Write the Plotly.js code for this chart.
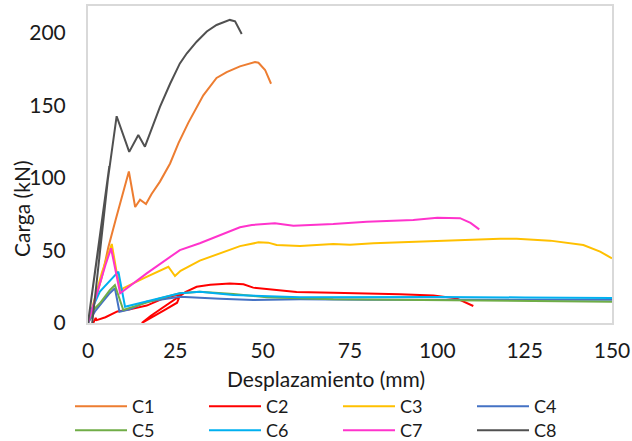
<!DOCTYPE html>
<html><head><meta charset="utf-8">
<script src="https://cdn.plot.ly/plotly-3.0.1.min.js"></script>
<style>html,body{margin:0;padding:0;background:#fff}</style>
</head><body><div id="chart" style="width:632px;height:441px"></div>
<script>
// Serie names
const seriesNames = ["C1","C2","C3","C4","C5","C6","C7","C8"];
const seriesColors = ["#ED7D31","#FF0000","#FFC000","#4472C4","#70AD47","#00B0F0","#FF33CC","#505050"];

// Desplazamiento (mm) / Carga (kN)
const c1x = [0,2,4,5.8,7.9,8.9,10.5,11.7,13.5,14.9,16.6,18.2,20.6,23.5,25.9,28.7,33,36.8,39.7,43.5,47.8,48.8,50.7,52.4];
const c1y = [0,15,32,52,71,80,95,104.5,80,85,82,89,97.5,110,124,138,157,169,173,177,180,179.5,174.5,165];

const c2x = [1.5,2.2,2.5,5,8.4,12,16.8,21.6,26.5,25.5,22,18,15.4,18,22,26.3,28,31.1,35,40.6,44.5,47.3,53,59.7,70.2,79.8,89.3,98.9,105.5,110.3];
const c2y = [0,3.5,2,4,8,9.4,12,17,20,14,9,3.5,0,5,11.5,18.5,21.5,25,26.3,27.2,26.7,24.4,22.8,21.4,20.9,20.5,19.8,18.9,17,11.7];

const c3x = [0,2,4,6.8,8.2,9.5,10.1,16,23,24.9,26.5,32,37.8,43.5,48.8,51.6,54,60.7,70.2,75,81.7,89.3,98.9,108.4,118,122.7,132.3,141.8,146.6,150];
const c3y = [0,18,35,54.5,35,22,24,31,38.8,32.4,36,43,48,53,55.6,55.4,53.8,53.1,54.5,54,55,55.6,56.8,57.2,58.1,58.1,56.8,53.8,49.2,44.6];

const c4x = [0,2,4,6,7.7,9,12,16.8,26.3,32,37.8,47.3,60.7,80,100,125,150];
const c4y = [0,8,14,20,24,7.8,9.5,14.7,18.1,17.7,16.8,15.9,16.3,16,16,16,16];

const c5x = [0,1.5,3.4,6.3,7.7,10.1,14,20,26.3,32,41.6,51.2,70.2,108.4,150];
const c5y = [0,9,13.6,22.8,26.2,9,12,16.5,20.5,21.6,20,17.7,16.3,15.4,14.7];

const c6x = [0,1,3.4,7.2,8.7,10.6,16.8,26.3,32,41.6,60.7,80,100,125,150];
const c6y = [0,9,21.6,32,35.4,11.2,15,20.5,21.6,19.3,17.7,17.8,18,17.6,17.2];

const c7x = [0,1.5,3,5,6.6,9.2,16.8,26.3,32,37.8,43.5,46.9,52.1,53.5,58.8,70.2,79.8,93.1,100,106.5,109.5,112];
const c7y = [0,12,25,40,51.5,20.5,34.2,50.3,55,60.7,66,67.6,68.3,68.8,67.1,68.3,69.9,71,72.5,72.3,69,64.6];

const c8x = [1.2,6.1,0,4,8.2,11.8,14.4,16.3,18.2,20.6,23.5,26.3,28.3,31.1,34,36.8,40.6,42.1,44];
const c8y = [0,108,0,70,142.6,118,129.7,121.6,134,149,165,179,186,194,201,205.5,209,208,199.3];

const xs = [c1x,c2x,c3x,c4x,c5x,c6x,c7x,c8x];
const ys = [c1y,c2y,c3y,c4y,c5y,c6y,c7y,c8y];

const xTickVals = [0,25,50,75,100,125,150];
const yTickVals = [0,50,100,150,200];

const font = "Lato, 'Open Sans', sans-serif";
const FS = 21;
const LFS = 18;
const traces = seriesNames.map((n,i)=>({
  type:"scatter", mode:"lines", name:n, x:xs[i], y:ys[i],
  legend: i < 4 ? "legend" : "legend2",
  line:{color:seriesColors[i], width:2}
}));

const legendBase = {orientation:"h", xanchor:"left", yanchor:"top",
  entrywidth:67, entrywidthmode:"pixels", itemwidth:52, font:{size:LFS},
  bgcolor:"rgba(0,0,0,0)", borderwidth:0};

const layout = {
  width:632, height:441,
  margin:{l:88, r:20, t:6, b:118, autoexpand:false},
  paper_bgcolor:"#fff", plot_bgcolor:"#fff",
  font:{family:font, size:FS, color:"#1a1a1a"},
  showlegend:true,
  xaxis:{range:[0,150], tickvals:xTickVals, showgrid:false, zeroline:false,
    showline:true, linecolor:"#d9d9d9", linewidth:2, mirror:true, ticks:"",
    ticklabelstandoff:8, tickfont:{size:FS}},
  yaxis:{range:[0,218.6], tickvals:yTickVals, showgrid:false, zeroline:false,
    showline:true, linecolor:"#d9d9d9", linewidth:2, mirror:true, ticks:"",
    ticklabelstandoff:16, tickfont:{size:FS}},
  legend:Object.assign({}, legendBase, {x:(70-88)/524, y:-(388-323)/317}),
  legend2:Object.assign({}, legendBase, {x:(70-88)/524, y:-(412-323)/317}),
  annotations:[
    {text:"Desplazamiento (mm)", xref:"paper", yref:"paper", x:(326-88)/524, y:-(378-323)/317,
     xanchor:"center", yanchor:"middle", showarrow:false, font:{size:FS}},
    {text:"Carga (kN)", xref:"paper", yref:"paper", x:-(88-21)/524, y:(323-209)/317,
     xanchor:"center", yanchor:"middle", textangle:-90, showarrow:false, font:{size:FS}}
  ]
};
Plotly.newPlot("chart", traces, layout, {displayModeBar:false, staticPlot:true});
</script></body></html>
